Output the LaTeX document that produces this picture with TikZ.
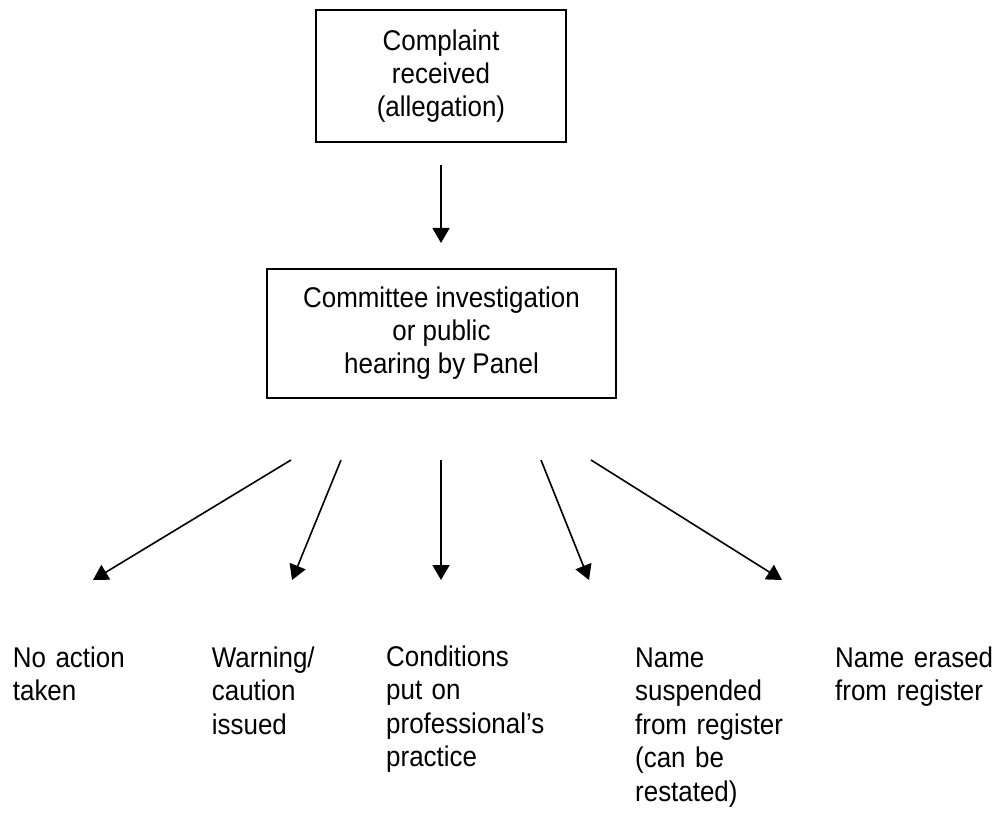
\documentclass[tikz,border=0pt]{standalone}
\usepackage{fontspec}
\setmainfont[FakeStretch=0.91]{Liberation Sans}
\usetikzlibrary{arrows.meta}
\begin{document}
\begin{tikzpicture}[x=1pt,y=-1pt,
  boxfont/.style={font=\fontsize{28.5}{33}\selectfont},
  outfont/.style={font=\fontsize{28.5}{33.6}\selectfont},
  box/.style={draw, line width=2pt, align=center, inner sep=0pt, boxfont},
  outcome/.style={anchor=base west, align=left, text width=180pt, inner sep=0pt, outfont},
  arr/.style={line width=1.6pt, -{Triangle[length=15pt,width=17pt]}}]
\useasboundingbox (0,0) rectangle (995,818);
\node[box, minimum width=250pt, minimum height=132pt] (complaint) at (441,76) {Complaint\\received\\(allegation)};
\node[box, minimum width=349pt, minimum height=129pt] (committee) at (441.5,333.5) {Committee investigation\\or public\\hearing by Panel};

\node[outcome] (none) at (12.7,667) {No action\\taken};
\node[outcome] (warn) at (211.7,667) {Warning/\\caution\\issued};
\node[outcome] (cond) at (386,666) {Conditions\\put on\\professional’s\\practice};
\node[outcome] (susp) at (635,667) {Name\\suspended\\from register\\(can be\\restated)};
\node[outcome] (erase) at (835,667) {Name erased\\from register};

\coordinate (a0s) at (441,165);
\coordinate (a0e) at (441,243);
\coordinate (s1) at (291,460);
\coordinate (s2) at (341,460);
\coordinate (s3) at (441,460);
\coordinate (s4) at (541,460);
\coordinate (s5) at (591,460);
\coordinate (e1) at (93,580);
\coordinate (e2) at (292,580);
\coordinate (e3) at (441,580);
\coordinate (e4) at (589,580);
\coordinate (e5) at (782,580);

\draw[arr] (a0s) -- (a0e);
\draw[arr] (s1) -- (e1);
\draw[arr] (s2) -- (e2);
\draw[arr] (s3) -- (e3);
\draw[arr] (s4) -- (e4);
\draw[arr] (s5) -- (e5);
\end{tikzpicture}
\end{document}
